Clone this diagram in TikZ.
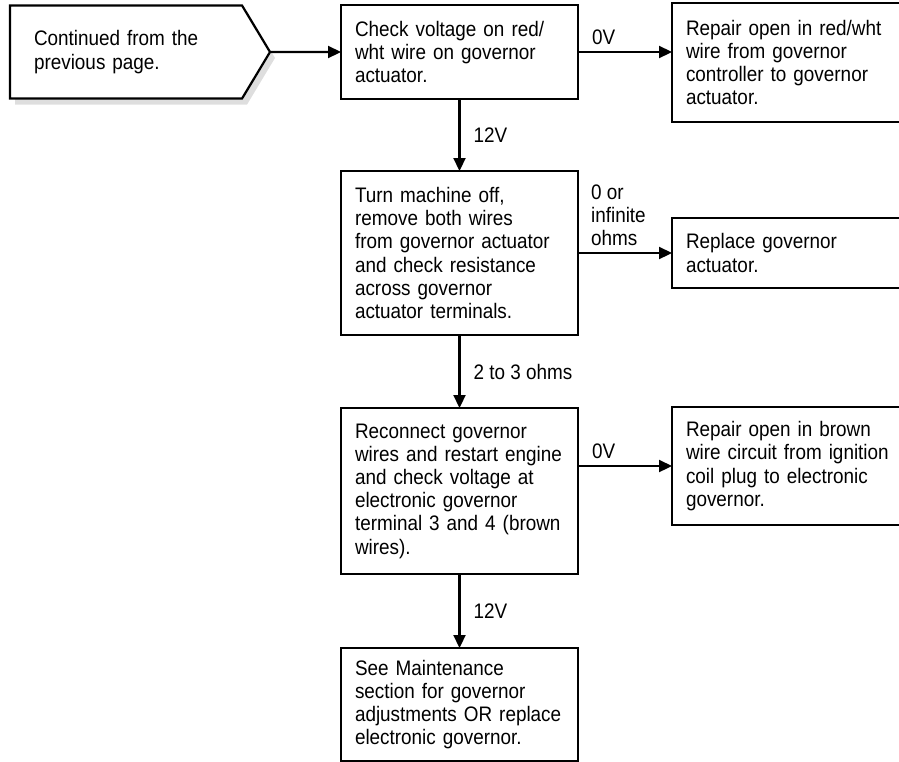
\documentclass[tikz,border=0pt]{standalone}
\usepackage{fontspec}
\setmainfont{Liberation Sans}[FakeStretch=0.9]
\usetikzlibrary{positioning, arrows.meta, shapes.symbols, shadows}
\hfuzz=50pt
\hyphenpenalty=10000

\begin{document}
\begin{tikzpicture}[node distance=71pt and 94pt, line width=2.2pt,
  box/.style={draw, rectangle, align=left, font=\fontsize{21}{23.2}\selectfont,
    inner xsep=14pt, inner ysep=0pt, outer sep=0pt, text width=209pt, minimum width=237pt},
  side/.style={box, text width=212pt, minimum width=240pt},
  lbl/.style={font=\fontsize{21}{23.2}\selectfont, align=left, inner sep=0pt},
  arr/.style={-{Triangle[length=13pt, width=12pt]}}]
\useasboundingbox (0,0) rectangle (899pt,-761pt);
\node[box, minimum height=94pt] (chk) at (459.5pt,-52pt) {Check voltage on red/\\ wht wire on governor\\ actuator.};
\node[signal, signal to=east, signal pointer angle=118, draw, fill=white, outer sep=0pt,
  drop shadow={shadow xshift=5pt, shadow yshift=-6pt, fill=black!13, opacity=1},
  align=left, font=\fontsize{21}{23.2}\selectfont, text width=184pt,
  minimum width=260pt, minimum height=93pt, left=71pt of chk] (cont) {Continued from the\\ previous page.};
\node[box, minimum height=164pt, below=71pt of chk, yshift=-1pt] (ohm) {Turn machine off,\\ remove both wires\\ from governor actuator\\ and check resistance\\ across governor\\ actuator terminals.};
\node[box, minimum height=166pt, below=73pt of ohm] (recon) {Reconnect governor\\ wires and restart engine\\ and check voltage at\\ electronic governor\\ terminal 3 and 4 (brown\\ wires).};
\node[box, minimum height=113pt, below=74pt of recon] (see) {See Maintenance\\ section for governor\\ adjustments OR replace\\ electronic governor.};
\node[side, minimum height=119pt, right=94pt of chk.north east, anchor=north west, yshift=2pt] (open1) {Repair open in red/wht\\ wire from governor\\ controller to governor\\ actuator.};
\node[side, minimum height=70pt, right=94pt of ohm] (rep) {Replace governor\\ actuator.};
\node[side, minimum height=118pt, right=94pt of recon.north east, anchor=north west, yshift=1pt] (open2) {Repair open in brown\\ wire circuit from ignition\\ coil plug to electronic\\ governor.};
\draw[arr] (cont) -- (chk);
\draw[arr] (chk.east) -- node[lbl, pos=0, anchor=south west, xshift=13pt, yshift=6pt] {0V} (chk.east -| open1.west);
\draw[arr] (chk) -- node[lbl, right, xshift=13pt] {12V} (ohm);
\draw[arr] (ohm.east) -- node[lbl, pos=0, anchor=south west, xshift=12pt, yshift=6pt] {0 or\\ infinite\\ ohms} (rep.west);
\draw[arr] (ohm) -- node[lbl, right, xshift=13pt] {2 to 3 ohms} (recon);
\draw[arr] (recon.east |- open2) -- node[lbl, pos=0, anchor=south west, xshift=13pt, yshift=6pt] {0V} (open2);
\draw[arr] (recon) -- node[lbl, right, xshift=13pt] {12V} (see);
\end{tikzpicture}
\end{document}
